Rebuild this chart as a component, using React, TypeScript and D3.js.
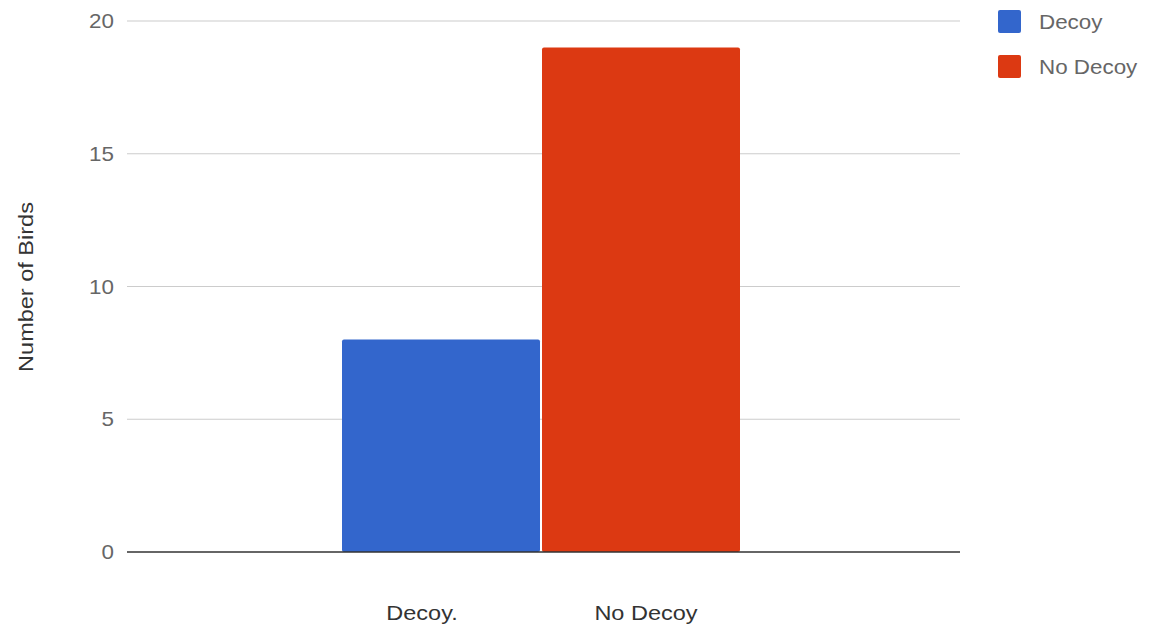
import React from "react";
import * as d3 from "d3";

const categories = ["Decoy", "No Decoy"];
const values = [8, 19];
const axisLabels = ["Decoy.", "No Decoy"];
const yTicks = [0, 5, 10, 15, 20];
const colors = ["#3366cc", "#dc3912"];

const W = 1153;
const H = 627;
const plotLeft = 127;
const plotRight = 960;
const plotTop = 21;
const plotBottom = 552;
const SX = 1.12;

function T(props: {
  x: number;
  y: number;
  anchor?: string;
  size: number;
  fill: string;
  baseline?: string;
  rotate?: number;
  children: React.ReactNode;
}) {
  const { x, y, anchor, size, fill, baseline, rotate, children } = props;
  return (
    <g transform={`translate(${x},${y}) rotate(${rotate || 0}) scale(${SX},1)`}>
      <text
        textAnchor={anchor || "start"}
        dominantBaseline={baseline}
        fontSize={size}
        fill={fill}
      >
        {children}
      </text>
    </g>
  );
}

export default function App() {
  const y = d3.scaleLinear().domain([0, 20]).range([plotBottom, plotTop]);
  const x = d3
    .scaleBand<string>()
    .domain(categories)
    .range([342, 740])
    .paddingInner(0.01);
  const xl = d3
    .scalePoint<string>()
    .domain(axisLabels)
    .range([plotLeft + 295, plotLeft + 519]);
  const font = "Arial, 'Liberation Sans', sans-serif";
  return (
    <svg
      width={W}
      height={H}
      style={{ position: "absolute", left: 0, top: 0, background: "#fff" }}
      fontFamily={font}
    >
      {yTicks.map((t) => (
        <g key={t}>
          {t !== 0 && (
            <line
              x1={plotLeft}
              x2={plotRight}
              y1={y(t)}
              y2={y(t)}
              stroke="#cccccc"
              strokeWidth={1.2}
            />
          )}
          <T x={114} y={y(t)} anchor="end" baseline="central" size={20} fill="#666">
            {t}
          </T>
        </g>
      ))}
      {categories.map((c, i) => (
        <rect
          key={c}
          x={x(c)}
          y={y(values[i])}
          width={x.bandwidth()}
          height={y(0) - y(values[i])}
          fill={colors[i]}
          rx={2}
        />
      ))}
      <line
        x1={plotLeft}
        x2={plotRight}
        y1={y(0)}
        y2={y(0)}
        stroke="#333"
        strokeWidth={1.5}
      />
      {axisLabels.map((l) => (
        <T key={l} x={xl(l) as number} y={620} anchor="middle" size={21} fill="#333">
          {l}
        </T>
      ))}
      <T x={33} y={287} rotate={-90} anchor="middle" size={21} fill="#333">
        Number of Birds
      </T>
      {categories.map((c, i) => (
        <g key={c} transform={`translate(998, ${10 + i * 45})`}>
          <rect width={23} height={23} fill={colors[i]} rx={2} />
          <T x={41} y={19} size={20} fill="#666">
            {c}
          </T>
        </g>
      ))}
    </svg>
  );
}
